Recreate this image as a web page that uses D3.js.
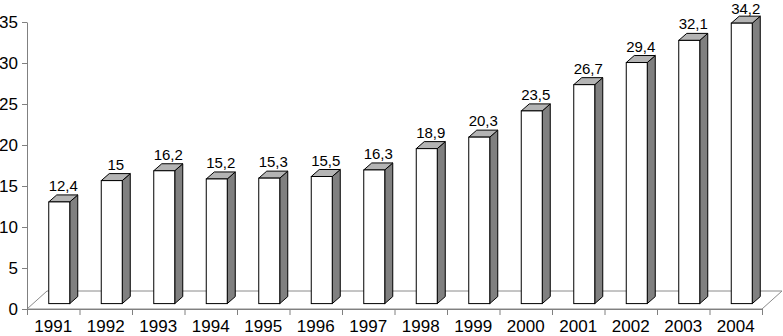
<!DOCTYPE html>
<html>
<head>
<meta charset="utf-8">
<script src="https://cdn.jsdelivr.net/npm/d3@7"></script>
<style>
  html, body { margin: 0; padding: 0; background: #fff; }
  svg { display: block; font-family: 'Liberation Sans', Arial, sans-serif; }
</style>
</head>
<body>
<div id="chart"></div>
<script>
/* Data */
const years = ['1991', '1992', '1993', '1994', '1995', '1996', '1997',
  '1998', '1999', '2000', '2001', '2002', '2003', '2004'];
const values = [12.4, 15, 16.2, 15.2, 15.3, 15.5, 16.3, 18.9, 20.3, 23.5, 26.7, 29.4, 32.1, 34.2];
const yTicks = [0, 5, 10, 15, 20, 25, 30, 35];

/* Layout */
const width = 783;
const height = 336;
const plot = { left: 27, right: 762, top: 22, bottom: 309 };
const floorDepth = { dx: 20, dy: -18 };
const barShift = { dx: 6, dy: -5.4 }; // where bars sit inside the floor depth
const barDepth = { dx: 8, dy: -7 };
const barWidth = 21;

const svg = d3.select('#chart')
  .append('svg')
  .attr('width', width)
  .attr('height', height);

const x = d3.scaleBand().domain(years).range([plot.left, plot.right]).padding(0);
const y = d3.scaleLinear().domain([0, 35]).range([plot.bottom, plot.top]);
const edges = d3.scaleLinear().domain([0, years.length]).range([plot.left, plot.right]);

// floor
const floorPts = [
  [plot.left, plot.bottom],
  [plot.right, plot.bottom],
  [plot.right + floorDepth.dx, plot.bottom + floorDepth.dy],
  [plot.left + floorDepth.dx, plot.bottom + floorDepth.dy]
];
svg.append('path')
  .attr('d', d3.line()(floorPts) + 'Z')
  .attr('fill', 'none')
  .attr('stroke', '#8a8a8a')
  .attr('stroke-width', 1);

// y axis
const yAxis = svg.append('g')
  .attr('transform', `translate(${plot.left},0)`)
  .call(d3.axisLeft(y).tickValues(yTicks).tickSize(5).tickPadding(4).tickSizeOuter(0));
yAxis.select('.domain').attr('stroke', '#808080');
yAxis.selectAll('.tick line').attr('stroke', '#808080');
yAxis.selectAll('text').attr('fill', '#000').style('font-size', '17px');

// x axis: boundary ticks
const xTickAxis = svg.append('g')
  .attr('transform', `translate(0,${plot.bottom})`)
  .call(d3.axisBottom(edges).tickValues(d3.range(years.length + 1)).tickFormat('').tickSize(6).tickSizeOuter(0));
xTickAxis.select('.domain').attr('stroke', '#808080');
xTickAxis.selectAll('.tick line').attr('stroke', '#808080');

// x axis: labels
const xLabelAxis = svg.append('g')
  .attr('transform', `translate(0,${plot.bottom})`)
  .call(d3.axisBottom(x).tickSize(0).tickPadding(11));
xLabelAxis.select('.domain').remove();
xLabelAxis.selectAll('text').attr('fill', '#000').style('font-size', '17px');

// bars
const data = years.map((yr, i) => ({ year: yr, value: values[i] }));

const bars = svg.append('g')
  .selectAll('g.bar')
  .data(data)
  .enter()
  .append('g')
  .attr('class', 'bar');

const x0 = d => x(d.year) + x.bandwidth() / 2 + barShift.dx - barWidth / 2;
const x1 = d => x0(d) + barWidth;
const yb = () => y(0) + barShift.dy;
const yt = d => y(d.value) + barShift.dy;

// side face
bars.append('path')
  .attr('d', d => d3.line()([
    [x1(d), yb()],
    [x1(d) + barDepth.dx, yb() + barDepth.dy],
    [x1(d) + barDepth.dx, yt(d) + barDepth.dy],
    [x1(d), yt(d)]
  ]) + 'Z')
  .attr('fill', '#808080')
  .attr('stroke', '#000')
  .attr('stroke-width', 1)
  .attr('stroke-linejoin', 'round');

// top face
bars.append('path')
  .attr('d', d => d3.line()([
    [x0(d), yt(d)],
    [x1(d), yt(d)],
    [x1(d) + barDepth.dx, yt(d) + barDepth.dy],
    [x0(d) + barDepth.dx, yt(d) + barDepth.dy]
  ]) + 'Z')
  .attr('fill', '#b4b4b4')
  .attr('stroke', '#000')
  .attr('stroke-width', 1)
  .attr('stroke-linejoin', 'round');

// front face
bars.append('rect')
  .attr('x', d => x0(d))
  .attr('y', d => yt(d))
  .attr('width', barWidth)
  .attr('height', d => yb() - yt(d))
  .attr('fill', '#fff')
  .attr('stroke', '#000')
  .attr('stroke-width', 1);

// value labels (kept inside the top edge)
bars.append('text')
  .attr('x', d => x0(d) + barWidth / 2 + barDepth.dx / 2)
  .attr('y', d => Math.max(yt(d) + barDepth.dy - 4, 14))
  .attr('text-anchor', 'middle')
  .style('font-size', '15px')
  .attr('fill', '#000')
  .text(d => String(d.value).replace('.', ','));
</script>
</body>
</html>
